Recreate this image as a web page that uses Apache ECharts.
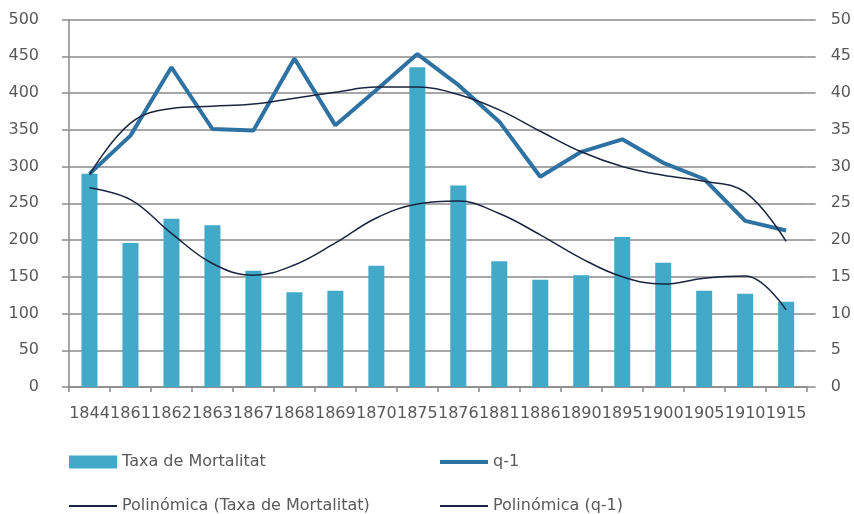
<!DOCTYPE html>
<html>
<head>
<meta charset="utf-8">
<script src="https://cdn.jsdelivr.net/npm/echarts@6/dist/echarts.min.js"></script>
<style>
html,body{margin:0;padding:0;background:#fff;}
#x1{width:854px;height:514px;}
</style>
</head>
<body>
<div id="x1"></div>
<script>
var years = ['1844','1861','1862','1863','1867','1868','1869','1870','1875','1876','1881','1886','1890','1895','1900','1905','1910','1915'];
var taxa = [290, 196, 229, 220, 158, 129, 131, 165, 435, 274, 171, 146, 152, 204, 169, 131, 127, 116];
var q1 = [29.0, 34.2, 43.5, 35.1, 34.9, 44.7, 35.6, 40.4, 45.3, 41.1, 36.1, 28.6, 32.0, 33.7, 30.5, 28.3, 22.6, 21.3];
// tendencies llegides del gràfic
var polTaxa = [271, 255, 209, 168, 152, 166, 196, 230, 249, 253, 236, 207, 175, 150, 140, 148, 151, 105];
var polQ1 = [28.9, 35.9, 37.9, 38.2, 38.5, 39.3, 40.1, 40.8, 40.8, 39.8, 37.7, 34.8, 32.0, 30.0, 28.8, 28.0, 26.5, 19.8];
var leftTicks = [0, 500, 50];
var rightTicks = [0, 50, 5];

var txt = '#595959';
var font = 'DejaVu Sans';

function legendAt(name, left, top, h) {
	return {
		data: [{name: name, icon: 'rect'}],
		left: left,
		top: top,
		padding: 0,
		itemWidth: 48,
		itemHeight: h,
		itemGap: 0,
		selectedMode: false,
		textStyle: {color: txt, fontSize: 16, fontFamily: font}
	};
}

var myChart = echarts.init(document.getElementById('x1'));
var option1 = {
	animation: false,
	backgroundColor: '#fff',
	grid: {left: 69, right: 46, top: 19.5, bottom: 127, containLabel: false},
	legend: [
		legendAt('Taxa de Mortalitat', 69, 454, 13),
		legendAt('q-1', 440, 454, 4),
		legendAt('Polinómica (Taxa de Mortalitat)', 69, 498, 2),
		legendAt('Polinómica (q-1)', 440, 498, 2)
	],
	xAxis: {
		type: 'category',
		data: years,
		boundaryGap: true,
		axisLine: {lineStyle: {color: '#8a8a8a', width: 1.5}},
		axisTick: {show: true, length: 5, lineStyle: {color: '#8a8a8a', width: 1.5}},
		axisLabel: {interval: 0, color: txt, fontSize: 16, fontFamily: font, margin: 19}
	},
	yAxis: [
		{
			type: 'value',
			min: leftTicks[0], max: leftTicks[1], interval: leftTicks[2],
			axisLine: {show: true, lineStyle: {color: '#8a8a8a', width: 1.5}},
			axisTick: {show: true, length: 7, lineStyle: {color: '#8a8a8a', width: 1.5}},
			splitLine: {lineStyle: {color: '#8a8a8a', width: 1.5}},
			axisLabel: {color: txt, fontSize: 16, fontFamily: font, margin: 30}
		},
		{
			type: 'value',
			min: rightTicks[0], max: rightTicks[1], interval: rightTicks[2],
			axisLine: {show: false},
			axisTick: {show: true, length: 9, lineStyle: {color: '#8a8a8a', width: 1.5}},
			splitLine: {show: false},
			axisLabel: {color: txt, fontSize: 16, fontFamily: font, margin: 24}
		}
	],
	series: [
		{
			name: 'Taxa de Mortalitat',
			type: 'bar',
			data: taxa,
			barWidth: 16,
			itemStyle: {color: '#42a9c9'}
		},
		{
			name: 'q-1',
			type: 'line',
			yAxisIndex: 1,
			data: q1,
			symbol: 'none',
			lineStyle: {color: '#2e72a3', width: 4},
			itemStyle: {color: '#2e72a3'}
		},
		{
			name: 'Polinómica (Taxa de Mortalitat)',
			type: 'line',
			data: polTaxa,
			smooth: 0.4,
			symbol: 'none',
			lineStyle: {color: '#1b2540', width: 1.5},
			itemStyle: {color: '#1b2540'}
		},
		{
			name: 'Polinómica (q-1)',
			type: 'line',
			yAxisIndex: 1,
			data: polQ1,
			smooth: 0.4,
			symbol: 'none',
			lineStyle: {color: '#1b2540', width: 1.5},
			itemStyle: {color: '#1b2540'}
		}
	]
};
myChart.setOption(option1);
</script>
</body>
</html>
